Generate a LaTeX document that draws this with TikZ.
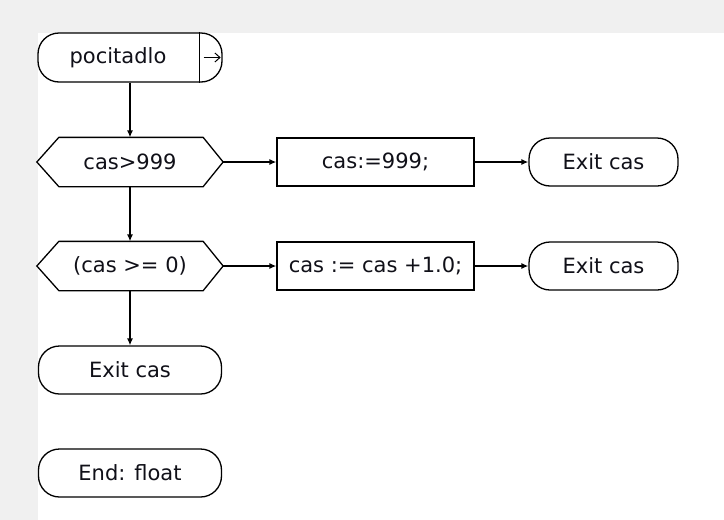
\documentclass[tikz,border=0pt]{standalone}
\usepackage{fontspec}
\setmainfont{DejaVu Sans}
\usetikzlibrary{arrows.meta}
\definecolor{panelgray}{HTML}{F0F0F0}
\definecolor{textink}{HTML}{101018}
\begin{document}
\begin{tikzpicture}[x=1pt,y=-1pt,line width=1.3pt,
  every node/.style={font=\fontsize{21}{25}\selectfont,inner sep=0pt,text=textink},
  terminal/.style={draw,rectangle,rounded corners=21pt,minimum height=48pt},
  process/.style={draw,rectangle,minimum width=197pt,minimum height=48pt},
  decision/.style={rectangle,minimum width=185pt,minimum height=48pt},
  flow/.style={-{Latex[length=7pt,width=6pt]}}]
% canvas
\useasboundingbox (0,0) rectangle (724,520);
\fill[panelgray] (0,0) rectangle (724,520);
\fill[white] (38,33) rectangle (724,520);

% start block with entry marker
\node[terminal,minimum width=184pt,minimum height=49pt] (start) at (130,57.5) {};
\node (starttext) at (118,58) {pocitadlo};
\draw ([xshift=-23pt]start.north east) -- ([xshift=-23pt]start.south east);
\draw[-{Straight Barb[length=5pt,width=9pt]},line width=1pt] ([xshift=-19pt]start.east) -- ([xshift=-2pt]start.east);

% decisions
\node[decision] (d1) at (130,162) {cas>999};
\node[decision] (d2) at (130,266) {(cas >= 0)};
\foreach \d in {d1,d2}{
  \draw (\d.west) -- ([xshift=22pt]\d.north west) -- ([xshift=-20pt]\d.north east)
    -- (\d.east) -- ([xshift=-20pt]\d.south east) -- ([xshift=22pt]\d.south west) -- cycle;
}

% statements
\node[process] (s1) at (375.5,162) {cas:=999;};
\node[process] (s2) at (375.5,266) {cas := cas +1.0;};

% exits
\node[terminal,minimum width=149pt] (x1) at (603.5,162) {Exit cas};
\node[terminal,minimum width=149pt] (x2) at (603.5,266) {Exit cas};
\node[terminal,minimum width=183pt] (x3) at (130,370) {Exit cas};
\node[terminal,minimum width=183pt] (fin) at (130,473) {End: float};

% connectors
\draw[flow] (start.south) -- (d1.north);
\draw[flow] (d1.south) -- (d2.north);
\draw[flow] (d2.south) -- (x3.north);
\draw[flow] (d1.east) -- (s1.west);
\draw[flow] (s1.east) -- (x1.west);
\draw[flow] (d2.east) -- (s2.west);
\draw[flow] (s2.east) -- (x2.west);
\end{tikzpicture}
\end{document}
